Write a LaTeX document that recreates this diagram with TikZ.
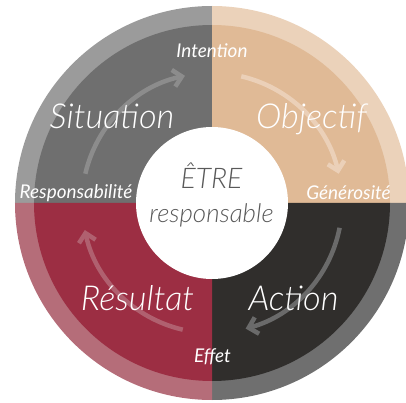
\documentclass[tikz,border=0pt]{standalone}
\usepackage{fontspec}
\IfFontExistsTF{Lato Light}{\setmainfont{Lato Light}}{\setmainfont{Lato}}
\newfontfamily\latoregular{Lato}
\usetikzlibrary{arrows.meta}
\definecolor{tlo}{HTML}{9B9B9B}
\definecolor{tli}{HTML}{6F6F6F}
\definecolor{tro}{HTML}{EBD2BA}
\definecolor{tri}{HTML}{E0BA96}
\definecolor{bro}{HTML}{6F6F6F}
\definecolor{bri}{HTML}{302E2C}
\definecolor{blo}{HTML}{B56D79}
\definecolor{bli}{HTML}{9C2E43}
\definecolor{tla}{HTML}{8C8C8C}
\definecolor{tra}{HTML}{EBD0B8}
\definecolor{bra}{HTML}{6A6A6A}
\definecolor{bla}{HTML}{B0606F}
\definecolor{ctext}{HTML}{595959}
\tikzset{
  cyclearrow/.style={line width=4.5bp, -{Straight Barb[length=8.5bp,width=17bp]}},
  biglabel/.style={anchor=base, text=white, inner sep=0pt, font=\fontsize{34.5}{38}\selectfont\itshape},
  smalllabel/.style={anchor=base, text=white, inner sep=0pt, font=\latoregular\fontsize{19}{22}\selectfont\itshape},
  centerlabel/.style={anchor=base, text=ctext, inner sep=0pt, font=\fontsize{26}{30}\selectfont\itshape}
}
\begin{document}
\begin{tikzpicture}[x=1bp,y=1bp]
\useasboundingbox (0,0) rectangle (406,403);
\clip (0,0) rectangle (406,403);
\coordinate (C) at (212,200);
% outer ring quadrants
\fill[tlo] (C) -- ++(90:197bp) arc[start angle=90,end angle=180,radius=197bp] -- cycle;
\fill[tro] (C) -- ++(0:197bp) arc[start angle=0,end angle=90,radius=197bp] -- cycle;
\fill[bro] (C) -- ++(270:197bp) arc[start angle=270,end angle=360,radius=197bp] -- cycle;
\fill[blo] (C) -- ++(180:197bp) arc[start angle=180,end angle=270,radius=197bp] -- cycle;
% inner quadrants
\fill[tli] (C) -- ++(90:178bp) arc[start angle=90,end angle=180,radius=178bp] -- cycle;
\fill[tri] (C) -- ++(0:178bp) arc[start angle=0,end angle=90,radius=178bp] -- cycle;
\fill[bri] (C) -- ++(270:178bp) arc[start angle=270,end angle=360,radius=178bp] -- cycle;
\fill[bli] (C) -- ++(180:178bp) arc[start angle=180,end angle=270,radius=178bp] -- cycle;
% cycle arrows
\draw[cyclearrow, tla] (C) ++(167:130bp) arc[start angle=167,end angle=102,radius=130bp];
\draw[cyclearrow, tra] (C) ++(77:130bp) arc[start angle=77,end angle=13,radius=130bp];
\draw[cyclearrow, bra] (C) ++(-11:130bp) arc[start angle=-11,end angle=-75,radius=130bp];
\draw[cyclearrow, bla] (C) ++(-103:130bp) arc[start angle=-103,end angle=-168,radius=130bp];
% centre
\fill[white] (C) circle[radius=76bp];
\node[centerlabel, font=\fontsize{28.5}{32}\selectfont\itshape] (etre) at (211.5,215) {ÊTRE};
\node[centerlabel] (resp) at (211.5,181) {responsable};
% big labels
\node[biglabel] (situation) at (112,275) {Situation};
\node[biglabel] (objectif) at (311.5,275) {Objectif};
\node[biglabel] (resultat) at (137.5,93) {Résultat};
\node[biglabel] (action) at (293.5,93) {Action};
% small labels
\node[smalllabel] (intention) at (212,346) {Intention};
\node[smalllabel] (responsabilite) at (76,205) {Responsabilité};
\node[smalllabel] (generosite) at (348.5,204) {Générosité};
\node[smalllabel] (effet) at (212.5,41) {Effet};
\end{tikzpicture}
\end{document}
